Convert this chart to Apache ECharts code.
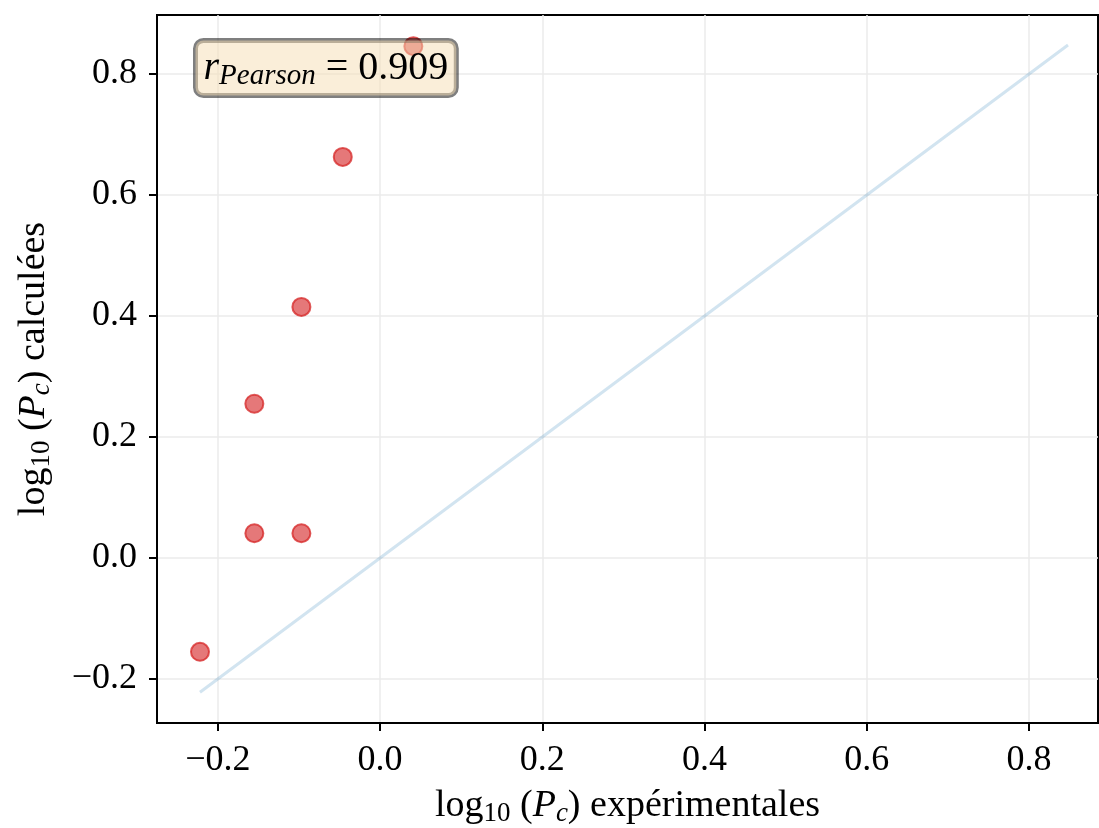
<!DOCTYPE html>
<html><head><meta charset="utf-8">
<script src="https://cdn.jsdelivr.net/npm/echarts@6/dist/echarts.min.js"></script>
<style>html,body{margin:0;padding:0;background:#fff}#c{width:1099px;height:828px}</style>
</head><body><div id="c"></div>
<script>
const xExp = [-0.222, -0.155, -0.155, -0.097, -0.097, -0.046, 0.041];
const yCalc = [-0.155, 0.041, 0.255, 0.041, 0.415, 0.663, 0.846];
const diagRange = [-0.222, 0.848];
const xTicks = [-0.2, 0.0, 0.2, 0.4, 0.6, 0.8];
const yTicks = [-0.2, 0.0, 0.2, 0.4, 0.6, 0.8];
const pearson = '0.909';

const FONT = 'Liberation Serif';
const fmt = v => (Math.abs(v) < 1e-9 ? 0 : v).toFixed(1).replace('-', '\u2212');
const nameRich = {
  n: {fontFamily: FONT, fontSize: 38, color: '#000'},
  s: {fontFamily: FONT, fontSize: 27, color: '#000', padding: [15, 0, 0, 0]},
  i: {fontFamily: FONT, fontSize: 38, fontStyle: 'italic', color: '#000'},
  si: {fontFamily: FONT, fontSize: 27, fontStyle: 'italic', color: '#000', padding: [15, 0, 0, 0]}
};
const scatterData = xExp.map((x, k) => [x, yCalc[k]]);
const lineData = diagRange.map(v => [v, v]);

const axisCommon = {
  type: 'value',
  axisLine: {show: true, onZero: false, lineStyle: {color: '#000', width: 2}},
  axisTick: {show: true, length: 8, inside: false, lineStyle: {color: '#000', width: 2}},
  splitLine: {show: true, lineStyle: {color: '#ebebeb', width: 1.5}},
  axisLabel: {fontFamily: FONT, fontSize: 36, color: '#000', formatter: fmt}
};

const chart = echarts.init(document.getElementById('c'), null, {renderer: 'canvas'});
chart.setOption({
  animation: false,
  grid: {left: 157, right: 1, top: 15, bottom: 105, containLabel: false, outerBoundsMode: 'none',
         show: true, borderColor: '#000', borderWidth: 2, backgroundColor: 'transparent'},
  xAxis: Object.assign({}, axisCommon, {
    min: -0.275, max: 0.885,
    axisTick: Object.assign({}, axisCommon.axisTick, {customValues: xTicks}),
    axisLabel: Object.assign({}, axisCommon.axisLabel, {customValues: xTicks, margin: 20}),
    name: '{n|log}{s|10}{n| (}{i|P}{si|c}{n|) expérimentales}',
    nameLocation: 'middle', nameGap: 62,
    nameTextStyle: {rich: nameRich}
  }),
  yAxis: Object.assign({}, axisCommon, {
    min: -0.2727, max: 0.8975,
    axisTick: Object.assign({}, axisCommon.axisTick, {customValues: yTicks}),
    axisLabel: Object.assign({}, axisCommon.axisLabel, {customValues: yTicks, margin: 20}),
    name: '{n|log}{s|10}{n| (}{i|P}{si|c}{n|) calculées}',
    nameLocation: 'middle', nameGap: 102, nameRotate: 90,
    nameTextStyle: {rich: nameRich}
  }),
  series: [
    {type: 'line', data: lineData, showSymbol: false, symbol: 'none',
     lineStyle: {color: 'rgba(31,119,180,0.2)', width: 3}, z: 2},
    {type: 'scatter', data: scatterData, symbolSize: 18,
     itemStyle: {color: 'rgba(214,39,40,0.78)', borderColor: 'rgba(214,39,40,0.95)', borderWidth: 2}, z: 3}
  ],
  graphic: [{
    type: 'text', left: 193, top: 38, z: 100,
    style: {
      text: '{r|r}{p|Pearson}{t| = ' + pearson + '}',
      rich: {
        r: {fontFamily: FONT, fontSize: 40, fontStyle: 'italic', color: '#000'},
        p: {fontFamily: FONT, fontSize: 29, fontStyle: 'italic', color: '#000', padding: [16, 0, 0, 0]},
        t: {fontFamily: FONT, fontSize: 40, color: '#000'}
      },
      backgroundColor: 'rgba(245,222,179,0.5)',
      borderColor: 'rgba(0,0,0,0.5)', borderWidth: 2.5, borderRadius: 8,
      padding: [5, 8, 5, 8]
    }
  }]
});
</script></body></html>
